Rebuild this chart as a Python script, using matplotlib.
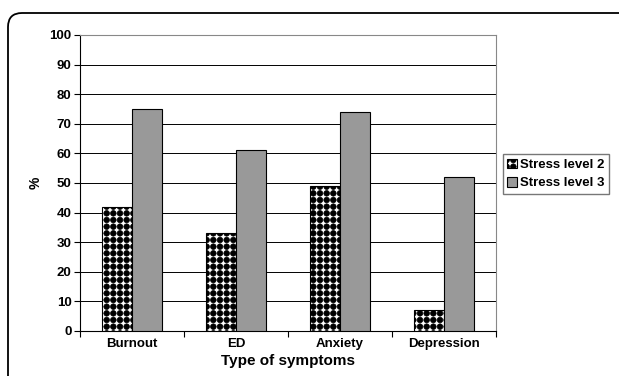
import numpy as np
import matplotlib as mpl
import matplotlib.pyplot as plt
import matplotlib.hatch as mhatch
from matplotlib.path import Path
from matplotlib.patches import FancyBboxPatch
from matplotlib.transforms import IdentityTransform

# Datos
categorias = ["Burnout", "ED", "Anxiety", "Depression"]
estres_2 = [42, 33, 49, 7]
estres_3 = [75, 61, 74, 52]
etiquetas = ["Stress level 2", "Stress level 3"]


# Patron de puntos negros en rejilla cuadrada (sustituye al '.' de matplotlib)
class PuntosCuadrados(mhatch.Shapes):
    size = 0.42
    filled = True

    def __init__(self, hatch, density):
        self.num_rows = hatch.count('.') * 5
        circulo = Path.unit_circle()
        self.shape_vertices = circulo.vertices
        self.shape_codes = circulo.codes
        super().__init__(hatch, density)
        self.num_shapes = (self.num_rows + 1) ** 2 if self.num_rows else 0
        self.num_vertices = self.num_shapes * len(self.shape_vertices)

    def set_vertices_and_codes(self, vertices, codes):
        paso = 1.0 / self.num_rows
        forma = self.shape_vertices * paso * self.size
        n = len(forma)
        cursor = 0
        for yy in np.linspace(0, 1, self.num_rows + 1):
            for xx in np.linspace(0, 1, self.num_rows + 1):
                vertices[cursor:cursor + n] = forma + (xx, yy)
                codes[cursor:cursor + n] = self.shape_codes
                cursor += n


mhatch._hatch_types = [PuntosCuadrados if t is mhatch.SmallFilledCircles else t
                       for t in mhatch._hatch_types]

plt.rcParams['font.family'] = ['Liberation Sans', 'DejaVu Sans']
plt.rcParams['font.weight'] = 'bold'
plt.rcParams['hatch.linewidth'] = 0.5

fig = plt.figure(figsize=(6.19, 3.76), dpi=100)
ax = fig.add_axes([0.129, 0.12, 0.672, 0.787])

x = np.arange(len(categorias))
w = 0.29

b2 = ax.bar(x - w/2, estres_2, w, color='white', edgecolor='black', hatch='...',
            linewidth=0.8, zorder=3)
b3 = ax.bar(x + w/2, estres_3, w, color='#999999', edgecolor='black', linewidth=0.8, zorder=3)

ax.set_xlim(-0.5, len(categorias) - 0.5)
ax.set_ylim(0, 100)
ax.set_yticks(np.arange(0, 101, 10))
ax.set_xticks(x)
ax.set_xticklabels(categorias)
ax.set_xticks(np.arange(-0.5, len(categorias), 1), minor=True)
ax.tick_params(axis='x', which='major', length=0, pad=5, labelsize=9.5)
ax.tick_params(axis='x', which='minor', length=4, width=0.8, direction='out')
ax.tick_params(axis='y', length=4, width=0.8, direction='out', labelsize=9.5, pad=2)

ax.grid(axis='y', color='black', linewidth=0.7, zorder=0)
ax.set_axisbelow(True)
for lado in ['top', 'right']:
    ax.spines[lado].set_color('#888888')
    ax.spines[lado].set_linewidth(0.8)
ax.spines['left'].set_linewidth(0.8)
ax.spines['bottom'].set_linewidth(0.8)

ax.set_xlabel("Type of symptoms", fontsize=11, fontweight='bold', labelpad=3)
ax.set_ylabel("%", fontsize=10, fontweight='bold', labelpad=5)

fig.legend([b2, b3], etiquetas, loc='center left',
           bbox_to_anchor=(0.812, 0.537), fontsize=9.5, frameon=True,
           fancybox=False, edgecolor='#555555', handlelength=0.75,
           handleheight=0.75, handletextpad=0.2, borderpad=0.35,
           labelspacing=0.45, borderaxespad=0)

# Marco redondeado de la figura
marco = FancyBboxPatch((8, -60), 700, 376 - 13 + 60,
                       boxstyle="round,pad=0,rounding_size=14",
                       transform=IdentityTransform(), fill=False,
                       edgecolor='black', linewidth=1.3)
fig.patches.append(marco)

fig.savefig("out.png", dpi=100)
